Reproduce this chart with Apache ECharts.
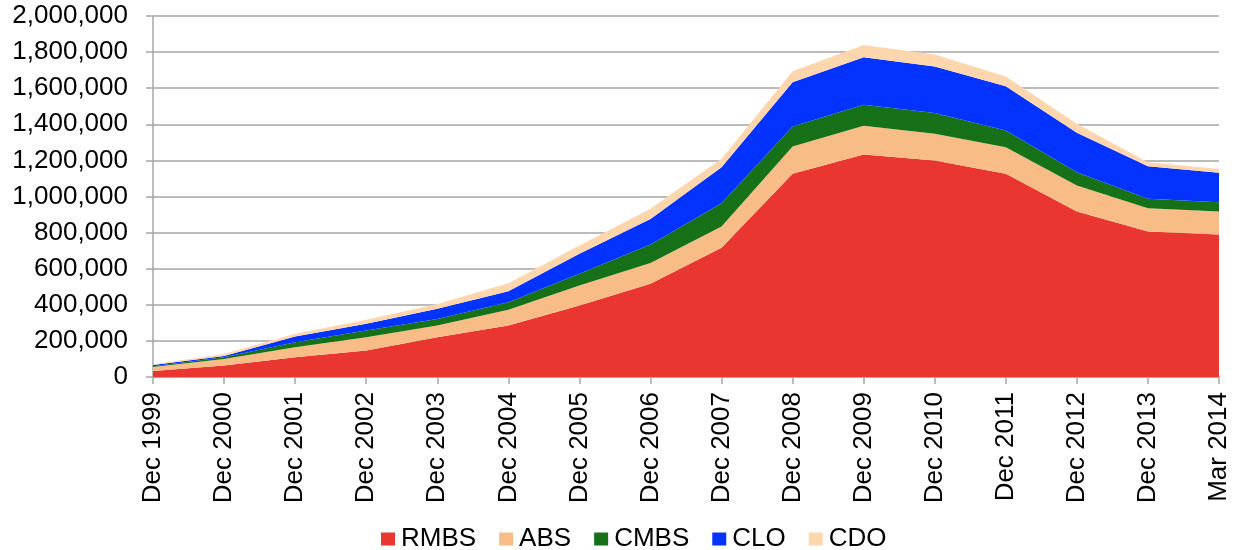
<!DOCTYPE html>
<html>
<head>
<meta charset="utf-8">
<script src="https://cdn.jsdelivr.net/npm/echarts@6/dist/echarts.min.js"></script>
<style>
  html, body { margin: 0; padding: 0; background: #fff; }
  #main { width: 1247px; height: 550px; }
</style>
</head>
<body>
<div id="main"></div>
<script>
// categories and series values
var categories = ['Dec 1999', 'Dec 2000', 'Dec 2001', 'Dec 2002', 'Dec 2003', 'Dec 2004', 'Dec 2005', 'Dec 2006',
	'Dec 2007', 'Dec 2008', 'Dec 2009', 'Dec 2010', 'Dec 2011', 'Dec 2012', 'Dec 2013', 'Mar 2014'];
var rmbs = [33000, 64000, 110000, 147000, 220000, 285000, 396000, 516000, 716000, 1126000, 1233000, 1199000, 1126000, 917000, 806000, 789000];
var abs = [22000, 36000, 55000, 73000, 65000, 87000, 111000, 115000, 118000, 151000, 159000, 148000, 147000, 144000, 129000, 128000];
var cmbs = [5000, 10000, 28000, 38000, 37000, 42000, 65000, 103000, 129000, 111000, 116000, 115000, 93000, 74000, 52000, 51000];
var clo = [6000, 7000, 31000, 37000, 56000, 61000, 111000, 142000, 199000, 245000, 264000, 258000, 245000, 218000, 181000, 163000];
var cdo = [4000, 10000, 15000, 22000, 27000, 45000, 46000, 56000, 47000, 61000, 68000, 67000, 54000, 50000, 22000, 22000];

var seriesNames = ['RMBS', 'ABS', 'CMBS', 'CLO', 'CDO'];
var seriesData = [rmbs, abs, cmbs, clo, cdo];
var colors = ['#E93631', '#F8BC86', '#167119', '#0433FF', '#FED6AE'];

var font = '"Liberation Sans", Arial, sans-serif';

var chartContainer = document.getElementById('main');
var myChart = echarts.init(chartContainer);

var series = seriesNames.map(function (name, i) {
	return {
		name: name,
		type: 'line',
		stack: 'total',
		data: seriesData[i],
		symbol: 'none',
		smooth: false,
		lineStyle: { width: 0 },
		areaStyle: { color: colors[i], opacity: 1 },
		itemStyle: { color: colors[i] },
		emphasis: { disabled: true }
	};
});

myChart.setOption({
	animation: false,
	grid: {  // plot area margins
		left: 153,
		right: 28,
		top: 16,
		bottom: 173
	},
	legend: {
		data: seriesNames,
		top: 521,
		left: 376,
		itemWidth: 14,
		itemHeight: 13,
		itemGap: 23,
		icon: 'rect',
		textStyle: {
			fontFamily: font,
			fontSize: 26,
			color: '#000',
			padding: [3, 0, 0, 1]
		}
	},
	xAxis: {
		type: 'category',
		boundaryGap: false,
		data: categories,
		axisLine: { lineStyle: { color: '#a6a6a6', width: 1.5 } },
		axisTick: { show: true, length: 7, lineStyle: { color: '#a6a6a6', width: 1.5 } },
		axisLabel: {
			rotate: 90,
			margin: 15,
			interval: 0,
			fontFamily: font,
			fontSize: 26,
			color: '#000'
		},
		splitLine: { show: false }
	},
	yAxis: {
		type: 'value',
		min: 0,
		max: 2000000,
		interval: 200000,
		axisLine: { show: true, lineStyle: { color: '#a6a6a6', width: 1.5 } },
		axisTick: { show: true, length: 7, lineStyle: { color: '#a6a6a6', width: 1.5 } },
		axisLabel: {
			margin: 25,
			fontFamily: font,
			fontSize: 26,
			color: '#000',
			formatter: function (v) {
				return String(v).replace(/\B(?=(\d{3})+(?!\d))/g, ',');
			}
		},
		splitLine: { show: true, lineStyle: { color: '#a6a6a6', width: 1.5 } }
	},
	series: series
});
</script>
</body>
</html>
